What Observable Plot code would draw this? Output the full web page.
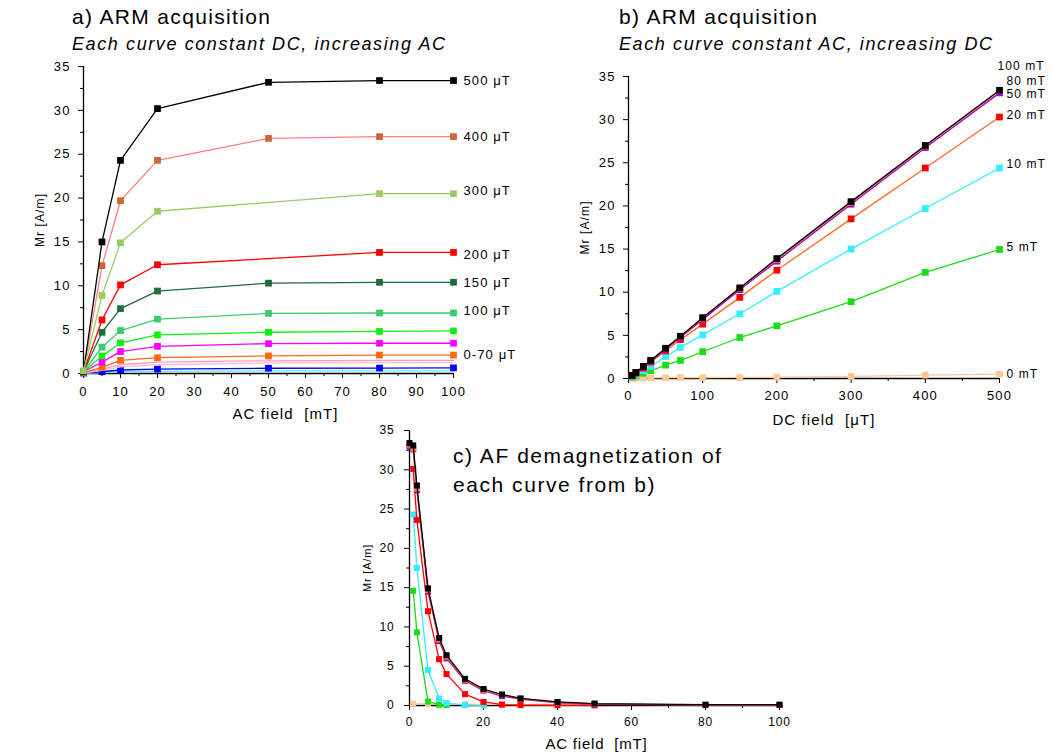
<!DOCTYPE html>
<html><head><meta charset="utf-8">
<script src="https://cdn.jsdelivr.net/npm/d3@7"></script>
<script src="https://cdn.jsdelivr.net/npm/@observablehq/plot@0.6"></script>
<style>
body{margin:0;background:#fff;}
#wrap{position:relative;width:1057px;height:756px;overflow:hidden;font-family:"Liberation Sans",Arial,sans-serif;background:#fff;}
.t{position:absolute;white-space:nowrap;color:#000;line-height:1;}
.h{font-size:21px;letter-spacing:1.35px;}
.s{font-size:18px;font-style:italic;letter-spacing:1.6px;}
.p{position:absolute;}
.pa svg text,.pb svg text{letter-spacing:1.1px;}
.pc svg text{letter-spacing:0.8px;}
</style></head><body>
<div id="wrap">
  <div class="t h" style="left:72px;top:6px">a) ARM acquisition</div>
  <div class="t s" style="left:72px;top:35px">Each curve constant DC, increasing AC</div>
  <div class="t h" style="left:619px;top:6px">b) ARM acquisition</div>
  <div class="t s" style="left:619px;top:35px">Each curve constant AC, increasing DC</div>
  <div class="t h" style="left:453px;top:441px;line-height:29px;letter-spacing:1.55px">c) AF demagnetization of<br>each curve from b)</div>
  <div id="pa" class="p pa" style="left:0px;top:50px"></div>
  <div id="pb" class="p pb" style="left:540px;top:56px"></div>
  <div id="pc" class="p pc" style="left:330px;top:410px"></div>
</div>
<script>
// ---------- Panel a: ARM acquisition, constant DC (µT), increasing AC (mT)
const acA = [0, 5, 10, 20, 50, 80, 100];
const a500 = [0.2, 15.0, 24.3, 30.2, 33.2, 33.4, 33.4];
const a400 = [0.2, 12.3, 19.7, 24.3, 26.8, 27.0, 27.0];
const a300 = [0.3, 8.9, 14.9, 18.5, null, 20.5, 20.5];
const a200 = [0.2, 6.1, 10.1, 12.4, null, 13.8, 13.8];
const a150 = [0.2, 4.7, 7.4, 9.4, 10.3, 10.4, 10.4];
const a100 = [0.2, 3.0, 4.9, 6.2, 6.85, 6.9, 6.9];
const a70  = [0.2, 2.0, 3.5, 4.4, 4.7, 4.8, 4.85];
const a50  = [0.2, 1.3, 2.5, 3.1, 3.4, 3.45, 3.45];
const a30  = [0.1, 0.7, 1.5, 1.8, 2.0, 2.1, 2.1];
const a20  = [0.1, 0.5, 1.0, 1.3, 1.45, 1.5, 1.5];
const a10  = [0.05, 0.35, 0.75, 1.0, 1.2, 1.25, 1.25];
const a5   = [0.05, 0.2, 0.4, 0.5, 0.6, 0.62, 0.64];
const a0   = [0.0, 0.1, 0.2, 0.25, 0.3, 0.3, 0.3];
const seriesA = [
  {key:"0", values:a0}, {key:"5", values:a5}, {key:"10", values:a10}, {key:"20", values:a20},
  {key:"30", values:a30}, {key:"50", values:a50}, {key:"70", values:a70}, {key:"100", values:a100},
  {key:"150", values:a150}, {key:"200", values:a200}, {key:"400", values:a400}, {key:"500", values:a500},
  {key:"300", values:a300}
];
const labelsA = [
  {text:"500 μT", key:"500"}, {text:"400 μT", key:"400"}, {text:"300 μT", key:"300"},
  {text:"200 μT", key:"200"}, {text:"150 μT", key:"150"}, {text:"100 μT", key:"100"},
  {text:"0-70 μT", key:"30"}
];

// ---------- Panel b: ARM acquisition, constant AC (mT), increasing DC (µT)
const dcB = [5, 10, 20, 30, 50, 70, 100, 150, 200, 300, 400, 500];
const b100 = [0.35, 0.7, 1.4, 2.1, 3.5, 4.9, 7.05, 10.5, 13.9, 20.5, 27.0, 33.4];
const b80  = [0.35, 0.7, 1.4, 2.1, 3.5, 4.85, 7.0, 10.45, 13.8, 20.4, 26.95, 33.35];
const b50  = [0.33, 0.66, 1.35, 2.0, 3.4, 4.75, 6.85, 10.3, 13.6, 20.2, 26.75, 33.1];
const b20  = [0.3, 0.6, 1.2, 1.9, 3.2, 4.5, 6.3, 9.4, 12.55, 18.5, 24.4, 30.3];
const b10  = [0.2, 0.45, 0.9, 1.4, 2.55, 3.6, 5.05, 7.5, 10.1, 15.0, 19.7, 24.4];
const b5   = [0.15, 0.3, 0.6, 0.9, 1.55, 2.1, 3.1, 4.75, 6.1, 8.9, 12.3, 14.95];
const b0   = [0.02, 0.03, 0.05, 0.07, 0.09, 0.1, 0.1, 0.12, 0.15, 0.25, 0.4, 0.5];
const seriesB = [
  {key:"0", values:b0}, {key:"5", values:b5}, {key:"10", values:b10}, {key:"20", values:b20},
  {key:"50", values:b50}, {key:"80", values:b80}, {key:"100", values:b100}
];
const labelsB = [
  {text:"100 mT", key:"100"}, {text:"80 mT", key:"80"}, {text:"50 mT", key:"50"},
  {text:"20 mT", key:"20"}, {text:"10 mT", key:"10"}, {text:"5 mT", key:"5"}, {text:"0 mT", key:"0"}
];

// ---------- Panel c: AF demagnetization of each curve from b)
const afC = [0, 1, 2, 5, 8, 10, 15, 20, 25, 30, 40, 50, 80, 100];
const c100 = [33.4, 33.1, 28.0, 14.9, 8.6, 6.4, 3.4, 2.1, 1.4, 0.9, 0.45, 0.25, 0.1, 0.1];
const c80  = [33.2, 32.7, 27.6, 14.7, 8.4, 6.2, 3.3, 2.0, 1.35, 0.85, 0.4, 0.2, 0.08, 0.08];
const c50  = [33.0, 32.6, 27.4, 14.5, 8.2, 6.0, 3.15, 1.9, 1.2, 0.8, 0.35, 0.15, 0.05, 0.05];
const c20  = [null, 30.1, 23.6, 12.0, 5.9, 4.0, 1.45, 0.45, 0.1, 0.05, 0.03, 0.02, null, null];
const c10  = [null, 24.3, 17.5, 4.5, 0.9, 0.3, 0.05, 0.02, null, null, null, null, null, null];
const c5   = [null, 14.6, 9.3, 0.5, 0.1, 0.05, null, null, null, null, null, null, null, null];
const c0   = [null, 0.25, null, 0.2, null, 0.15, 0.15, 0.15, 0.15, 0.15, 0.15, 0.15, null, null];
const seriesC = [
  {key:"0", values:c0}, {key:"5", values:c5}, {key:"10", values:c10}, {key:"20", values:c20},
  {key:"50", values:c50}, {key:"80", values:c80}, {key:"100", values:c100}
];

// ---------- styles (kept apart from the data)
const styleA = {
  "500":{line:"#000000", marker:"#000000"}, "400":{line:"#ff8080", marker:"#cc6633"},
  "300":{line:"#99cc66", marker:"#99cc66"}, "200":{line:"#ff0000", marker:"#ff0000"},
  "150":{line:"#1e6b3c", marker:"#1e6b3c"}, "100":{line:"#3ccc6a", marker:"#3ccc6a"},
  "70":{line:"#11ee11", marker:"#11ee11"}, "50":{line:"#ff00ff", marker:"#ff00ff"},
  "30":{line:"#ff6a10", marker:"#ff6a10"}, "20":{line:"#ff99c0", marker:null},
  "10":{line:"#ffbccc", marker:null}, "5":{line:"#0000ff", marker:"#0000ff"},
  "0":{line:"#55eeff", marker:null}
};
const labelOffA = {"500":0, "400":0, "300":-3, "200":2, "150":1, "100":-2, "30":0};
const styleB = {
  "100":{line:"#000000", marker:"#000000"}, "80":{line:"#ff5a1a", marker:"#ff7a3a"},
  "50":{line:"#9a00cc", marker:"#9a00cc"}, "20":{line:"#ff6a20", marker:"#ff0000"},
  "10":{line:"#33eeff", marker:"#33eeff"}, "5":{line:"#18dd18", marker:"#18dd18"},
  "0":{line:"#ffc896", marker:"#ffc896"}
};
const styleC = Object.assign({}, styleB, {"20":{line:"#ff0000", marker:"#ff0000"}});
const labelOffB = {"100":[-2,-24], "80":[7,-10], "50":[7,1.5], "20":[7,-2], "10":[7,-4], "5":[7,-2], "0":[7,0]};

const FONT = "'Liberation Sans', Arial, Helvetica, sans-serif";

function pts(xs, ys){ return xs.map((x,i)=>({x, y: ys[i]})).filter(d => d.y != null); }
function seriesMarks(xs, list, styles, r){
  const m = [];
  for (const s of list){
    const st = styles[s.key]; const d = pts(xs, s.values);
    m.push(Plot.line(d, {x:"x", y:"y", stroke: st.line, strokeWidth: 1.3}));
    if (st.marker) m.push(Plot.dot(d, {x:"x", y:"y", symbol:"square", r, fill: st.marker}));
  }
  return m;
}
function axes(o){
  return [
    Plot.axisY({ticks:o.yMajor, tickSize:5, tickPadding:o.padY, fontSize:o.fs, label:null}),
    Plot.axisY({ticks:o.yMinor, tickSize:3, text:null, label:null}),
    Plot.axisX({ticks:o.xMajor, tickSize:5, tickPadding:o.padX, fontSize:o.fs, label:null}),
    Plot.axisX({ticks:o.xMinor, tickSize:3, text:null, label:null}),
    Plot.ruleX([o.x0], {stroke:"#000", strokeWidth:1.3}),
    Plot.ruleY([0], {stroke:"#000", strokeWidth:1.3}),
    Plot.text([o.xLabel], {text:d=>d, frameAnchor:"bottom", textAnchor:"middle", lineAnchor:"middle", dy:o.xLabelDy, dx:o.xLabelDx, fontSize:o.xLabelFs}),
    Plot.text([o.yLabel], {text:d=>d, frameAnchor:"left", textAnchor:"middle", lineAnchor:"middle", rotate:-90, dx:o.yLabelDx, fontSize:o.yLabelFs})
  ];
}
const baseStyle = {fontFamily: FONT, fontSize:"13px", color:"#000", background:"transparent", overflow:"visible"};

// ----- Panel a
const lastA = k => { const v = seriesA.find(s=>s.key===k).values; return v[v.length-1]; };
const plotA = Plot.plot({
  width:530, height:390, marginLeft:83, marginRight:77, marginTop:16, marginBottom:67,
  x:{domain:[0,100]}, y:{domain:[0,35]}, style: baseStyle,
  marks:[
    ...axes({x0:0, xMajor:d3.range(0,101,10), xMinor:d3.range(5,100,10), yMajor:d3.range(0,36,5), yMinor:d3.range(2.5,35,5),
      fs:13, padX:8, padY:8, xLabel:"AC field  [mT]", xLabelDy:41, xLabelDx:17, xLabelFs:15, yLabel:"Mr [A/m]", yLabelDx:-43, yLabelFs:12}),
    ...seriesMarks(acA, seriesA, styleA, 3.8),
    ...labelsA.map(l => Plot.text([l], {x:()=>100, y:()=>lastA(l.key), text:"text", textAnchor:"start", dx:10, dy:labelOffA[l.key], fontSize:13}))
  ]
});
document.getElementById("pa").append(plotA);

// ----- Panel b
const lastB = k => { const v = seriesB.find(s=>s.key===k).values; return v[v.length-1]; };
const plotB = Plot.plot({
  width:517, height:380, marginLeft:88, marginRight:58, marginTop:20, marginBottom:58,
  x:{domain:[0,500]}, y:{domain:[0,35]}, style: baseStyle,
  marks:[
    ...axes({x0:0, xMajor:d3.range(0,501,100), xMinor:d3.range(50,500,100), yMajor:d3.range(0,36,5), yMinor:d3.range(2.5,35,5),
      fs:13, padX:7, padY:8, xLabel:"DC field  [μT]", xLabelDy:42, xLabelDx:10, xLabelFs:15, yLabel:"Mr [A/m]", yLabelDx:-43, yLabelFs:12}),
    ...seriesMarks(dcB, seriesB, styleB, 3.8),
    ...labelsB.map(l => Plot.text([l], {x:()=>500, y:()=>lastB(l.key), text:"text", textAnchor:"start", dx:labelOffB[l.key][0], dy:labelOffB[l.key][1], fontSize:12}))
  ]
});
document.getElementById("pb").append(plotB);

// ----- Panel c
const plotC = Plot.plot({
  width:470, height:346, marginLeft:79, marginRight:21, marginTop:20, marginBottom:51,
  x:{domain:[0,100]}, y:{domain:[0,35]}, style: baseStyle,
  marks:[
    ...axes({x0:0, xMajor:d3.range(0,101,20), xMinor:d3.range(10,100,20), yMajor:d3.range(0,36,5), yMinor:d3.range(2.5,35,5),
      fs:12, padX:7, padY:10, xLabel:"AC field  [mT]", xLabelDy:39, xLabelDx:2, xLabelFs:15, yLabel:"Mr [A/m]", yLabelDx:-42, yLabelFs:11}),
    ...seriesMarks(afC, seriesC, styleC, 3.4)
  ]
});
document.getElementById("pc").append(plotC);
</script>
</body></html>
